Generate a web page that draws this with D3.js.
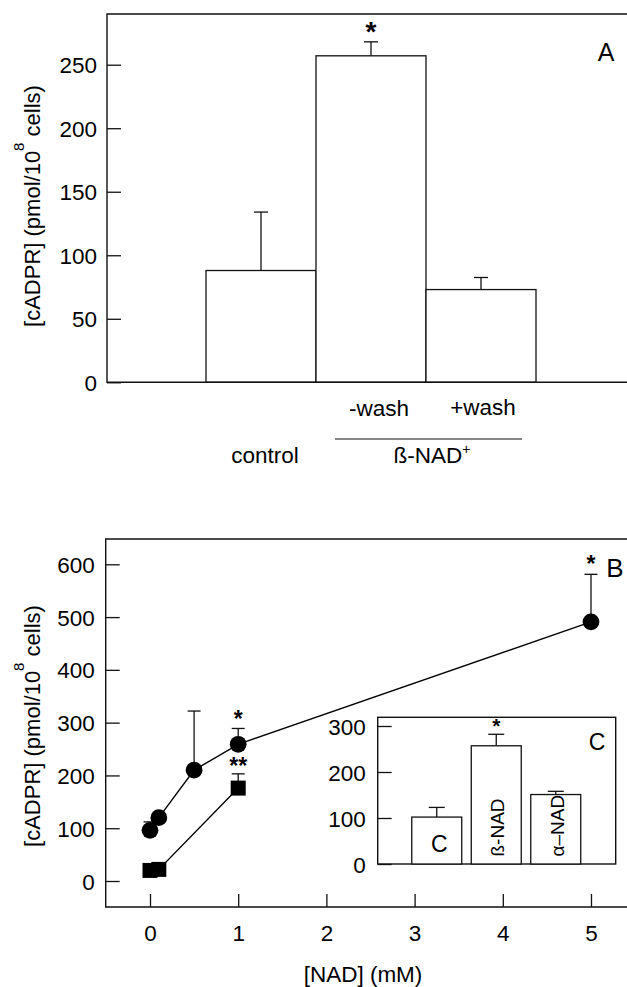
<!DOCTYPE html>
<html><head><meta charset="utf-8">
<script src="https://cdn.jsdelivr.net/npm/d3@7"></script>
<style>html,body{margin:0;padding:0;background:#fff}svg{display:block}text{font-family:"Liberation Sans",Arial,sans-serif;fill:#000}</style>
</head><body>
<script>
// Panel A data
const catA = ["control", "-wash", "+wash"];
const valA = [88, 257, 73];
const errA = [46, 11, 9.5];
const sigA = ["", "*", ""];
const tickA = [0, 50, 100, 150, 200, 250];
const groupA = "ß-NAD";
const groupMembersA = ["-wash", "+wash"];

// Panel B data
const nadCircle = [0, 0.1, 0.5, 1, 5];
const cadprCircle = [96, 120, 210, 259, 491];
const errCircle = [16, 0, 112, 30, 90];
const sigCircle = ["", "", "", "*", "*"];
const nadSquare = [0, 0.1, 1];
const cadprSquare = [20, 22, 176];
const errSquare = [0, 0, 27];
const sigSquare = ["", "", "**"];
const tickBy = [0, 100, 200, 300, 400, 500, 600];
const tickBx = [0, 1, 2, 3, 4, 5];

// Panel C (inset) data
const catC = ["C", "ß-NAD", "α–NAD"];
const valC = [102, 257, 151];
const errC = [21, 25, 7];
const sigC = ["", "*", ""];
const tickC = [0, 100, 200, 300];

const W = 627, H = 987, FS = 22.5, STK = "#111";
const svg = d3.select("body").append("svg").attr("width", W).attr("height", H);

function yTitle(g, x, y) {
  const t = g.append("text").attr("transform", `translate(${x},${y}) rotate(-90)`)
    .attr("text-anchor", "middle").style("font-size", "22px");
  t.append("tspan").text("[cADPR] (pmol/10");
  t.append("tspan").text("8").style("font-size", "15px").attr("dy", -16);
  t.append("tspan").text(" cells)").attr("dy", 16);
}
function star(g, x, yTop, s, fs) {
  g.append("text").attr("x", x).attr("y", yTop + 0.57 * fs).attr("text-anchor", "middle")
    .style("font-size", fs + "px").style("font-weight", "bold").text(s);
}
function styleAxis(g) {
  g.select(".domain").remove();
  g.selectAll(".tick line").attr("stroke", STK).attr("stroke-width", 1.3);
  g.selectAll(".tick text").style("font-size", FS + "px").style("font-family", '"Liberation Sans",Arial,sans-serif').attr("fill", "#000");
}

// ---------- Panel A ----------
const A = svg.append("g");
const yA = d3.scaleLinear().domain([0, 250]).range([382.3, 64.7]);
const xA = d3.scaleBand().domain(catA).range([206, 536]).padding(0);
const axA = A.append("g").attr("transform", "translate(107,0)")
  .call(d3.axisLeft(yA).tickValues(tickA).tickSize(-14).tickPadding(10));
styleAxis(axA);
axA.selectAll(".tick text").attr("dy", "0.36em");

catA.forEach((c, i) => {
  const x0 = xA(c), bw = xA.bandwidth(), cx = x0 + bw / 2;
  A.append("line").attr("x1", cx).attr("x2", cx).attr("y1", yA(valA[i])).attr("y2", yA(valA[i] + errA[i])).attr("stroke", STK).attr("stroke-width", 1.3);
  A.append("line").attr("x1", cx - 7).attr("x2", cx + 7).attr("y1", yA(valA[i] + errA[i])).attr("y2", yA(valA[i] + errA[i])).attr("stroke", STK).attr("stroke-width", 1.3);
  A.append("rect").attr("x", x0).attr("y", yA(valA[i])).attr("width", bw).attr("height", yA(0) - yA(valA[i]))
    .attr("fill", "#fff").attr("stroke", STK).attr("stroke-width", 1.3);
  if (sigA[i]) star(A, cx, yA(valA[i] + errA[i]) - 17, sigA[i], 28);
});
A.append("path").attr("d", `M628,14H107V382.3H628`).attr("fill", "none").attr("stroke", STK).attr("stroke-width", 1.4);

// category labels
const cxA = c => xA(c) + xA.bandwidth() / 2;
A.append("text").attr("x", cxA("control") + 4).attr("y", 463).attr("text-anchor", "middle").style("font-size", FS + "px").text("control");
A.append("text").attr("x", cxA("-wash") + 8).attr("y", 416).attr("text-anchor", "middle").style("font-size", FS + "px").text("-wash");
A.append("text").attr("x", cxA("+wash") + 2).attr("y", 415).attr("text-anchor", "middle").style("font-size", FS + "px").text("+wash");
const gm0 = cxA(groupMembersA[0]), gm1 = cxA(groupMembersA[1]);
A.append("line").attr("x1", gm0 - 36).attr("x2", gm1 + 41).attr("y1", 439).attr("y2", 439).attr("stroke", STK).attr("stroke-width", 1.2);
const gt = A.append("text").attr("x", (gm0 + gm1) / 2 + 6).attr("y", 463).attr("text-anchor", "middle").style("font-size", FS + "px");
gt.append("tspan").text(groupA);
gt.append("tspan").text("+").style("font-size", "14px").attr("dy", -9);
A.append("text").attr("x", 606).attr("y", 61).attr("text-anchor", "middle").style("font-size", "25px").text("A");
yTitle(A, 40, 206);

// ---------- Panel B ----------
const B = svg.append("g");
const xB = d3.scaleLinear().domain([0, 5]).range([150, 591]);
const yB = d3.scaleLinear().domain([0, 600]).range([881, 564.3]);
const axBy = B.append("g").attr("transform", "translate(105.7,0)")
  .call(d3.axisLeft(yB).tickValues(tickBy).tickSize(-14).tickPadding(11));
styleAxis(axBy);
axBy.selectAll(".tick text").attr("dy", "0.36em");
const axBx = B.append("g").attr("transform", "translate(0,907)")
  .call(d3.axisBottom(xB).tickValues(tickBx).tickSize(-13).tickPadding(18).tickFormat(d3.format("d")));
styleAxis(axBx);
B.append("path").attr("d", `M628,539H105.7V907H628`).attr("fill", "none").attr("stroke", STK).attr("stroke-width", 1.4);

function series(xs, ys, es, ss, shape) {
  const line = d3.line().x(d => xB(d[0])).y(d => yB(d[1]));
  const pts = xs.map((x, i) => [x, ys[i]]);
  B.append("path").attr("d", line(pts)).attr("fill", "none").attr("stroke", "#000").attr("stroke-width", 1.4);
  xs.forEach((x, i) => {
    const cx = xB(x);
    if (es[i] > 0) {
      B.append("line").attr("x1", cx).attr("x2", cx).attr("y1", yB(ys[i])).attr("y2", yB(ys[i] + es[i])).attr("stroke", STK).attr("stroke-width", 1.3);
      B.append("line").attr("x1", cx - 6.5).attr("x2", cx + 6.5).attr("y1", yB(ys[i] + es[i])).attr("y2", yB(ys[i] + es[i])).attr("stroke", STK).attr("stroke-width", 1.3);
    }
  });
  xs.forEach((x, i) => {
    const cx = xB(x), cy = yB(ys[i]);
    if (shape === "circle") B.append("circle").attr("cx", cx).attr("cy", cy).attr("r", 8.4).attr("fill", "#000");
    else B.append("rect").attr("x", cx - 7.5).attr("y", cy - 7.5).attr("width", 15).attr("height", 15).attr("fill", "#000");
    if (ss[i]) star(B, cx, yB(ys[i] + es[i]) - (ss[i] === "**" ? 13 : 15), ss[i], 23);
  });
}
series(nadCircle, cadprCircle, errCircle, sigCircle, "circle");
series(nadSquare, cadprSquare, errSquare, sigSquare, "square");
B.append("text").attr("x", 615).attr("y", 577).attr("text-anchor", "middle").style("font-size", "26px").text("B");
B.append("text").attr("x", 363).attr("y", 982).attr("text-anchor", "middle").style("font-size", FS + "px").text("[NAD] (mM)");
yTitle(B, 40, 726);

// ---------- Inset C ----------
const C = svg.append("g");
C.append("rect").attr("x", 377.7).attr("y", 717.3).attr("width", 615.7 - 377.7).attr("height", 864 - 717.3)
  .attr("fill", "#fff").attr("stroke", STK).attr("stroke-width", 1.4);
const yC = d3.scaleLinear().domain([0, 300]).range([864, 726]);
const xC = d3.scaleBand().domain(catC).range([407, 585.5]).paddingInner(0.16).paddingOuter(0.08);
const axC = C.append("g").attr("transform", "translate(377.7,0)")
  .call(d3.axisLeft(yC).tickValues(tickC).tickSize(-14).tickPadding(12));
styleAxis(axC);
axC.selectAll(".tick text").attr("dy", "0.36em");
catC.forEach((c, i) => {
  const x0 = xC(c), bw = xC.bandwidth(), cx = x0 + bw / 2;
  C.append("line").attr("x1", cx).attr("x2", cx).attr("y1", yC(valC[i])).attr("y2", yC(valC[i] + errC[i])).attr("stroke", STK).attr("stroke-width", 1.3);
  C.append("line").attr("x1", cx - 8).attr("x2", cx + 8).attr("y1", yC(valC[i] + errC[i])).attr("y2", yC(valC[i] + errC[i])).attr("stroke", STK).attr("stroke-width", 1.3);
  C.append("rect").attr("x", x0).attr("y", yC(valC[i])).attr("width", bw).attr("height", yC(0) - yC(valC[i]))
    .attr("fill", "#fff").attr("stroke", STK).attr("stroke-width", 1.3);
  if (sigC[i]) star(C, cx, yC(valC[i] + errC[i]) - 13, sigC[i], 21);
  if (i === 0) {
    C.append("text").attr("x", cx + 2.5).attr("y", yC(0) - 12.5).attr("text-anchor", "middle").style("font-size", "23px").text(c);
  } else {
    C.append("text").attr("transform", `translate(${cx + 8},${yC(0) - 7.5}) rotate(-90)`)
      .attr("text-anchor", "start").style("font-size", "19px").text(c);
  }
});
C.append("text").attr("x", 597).attr("y", 750).attr("text-anchor", "middle").style("font-size", "23px").text("C");
</script>
</body></html>
